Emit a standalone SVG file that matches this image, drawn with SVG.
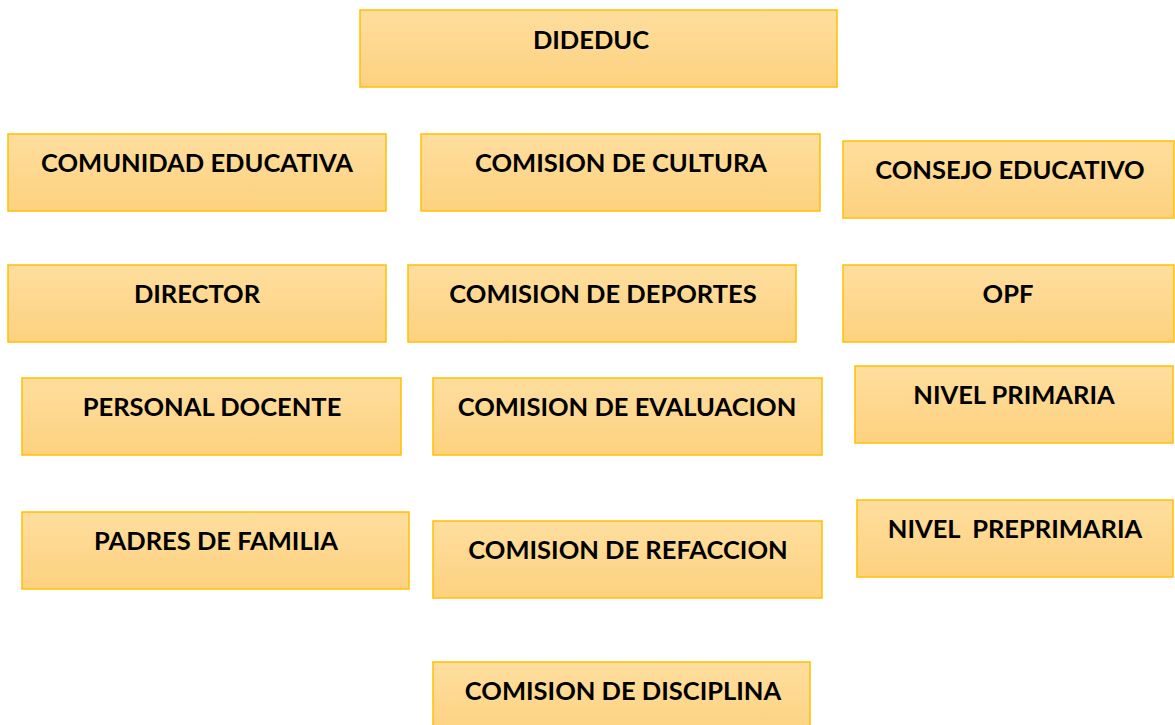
<svg xmlns="http://www.w3.org/2000/svg" width="1175" height="725" viewBox="0 0 1175 725">
<defs>
<linearGradient id="g" x1="0" y1="0" x2="0" y2="1">
<stop offset="0" stop-color="#FEDE9E"/>
<stop offset="1" stop-color="#FDD17F"/>
</linearGradient>
</defs>
<style>
.box{fill:url(#g);stroke:#FFC000;stroke-width:1.5}
.t{font-family:Lato,"Open Sans",sans-serif;font-weight:bold;font-size:25.5px;fill:#000;text-anchor:middle}
</style>
<rect width="1175" height="725" fill="#fff"/>
<g id="connectors"></g>
<g id="dideduc"><rect class="box" x="360" y="10" width="477" height="77"/><text class="t" x="591" y="49">DIDEDUC</text></g>
<g id="comunidad"><rect class="box" x="8" y="134" width="378" height="77"/><text class="t" x="197" y="172">COMUNIDAD EDUCATIVA</text></g>
<g id="cultura"><rect class="box" x="421" y="134" width="399" height="77"/><text class="t" x="621" y="172">COMISION DE CULTURA</text></g>
<g id="consejo"><rect class="box" x="843" y="141" width="331" height="77"/><text class="t" x="1010" y="179">CONSEJO EDUCATIVO</text></g>
<g id="director"><rect class="box" x="8" y="265" width="378" height="77"/><text class="t" x="197" y="303">DIRECTOR</text></g>
<g id="deportes"><rect class="box" x="408" y="265" width="388" height="77"/><text class="t" x="603" y="303">COMISION DE DEPORTES</text></g>
<g id="opf"><rect class="box" x="843" y="265" width="331" height="77"/><text class="t" x="1008" y="303">OPF</text></g>
<g id="docente"><rect class="box" x="22" y="378" width="379" height="77"/><text class="t" x="212" y="416">PERSONAL DOCENTE</text></g>
<g id="evaluacion"><rect class="box" x="433" y="378" width="389" height="77"/><text class="t" x="627" y="416">COMISION DE EVALUACION</text></g>
<g id="primaria"><rect class="box" x="855" y="366" width="318" height="77"/><text class="t" x="1014" y="404">NIVEL PRIMARIA</text></g>
<g id="padres"><rect class="box" x="22" y="512" width="387" height="77"/><text class="t" x="216" y="550">PADRES DE FAMILIA</text></g>
<g id="refaccion"><rect class="box" x="433" y="521" width="389" height="77"/><text class="t" x="628" y="559">COMISION DE REFACCION</text></g>
<g id="preprimaria"><rect class="box" x="857" y="500" width="316" height="77"/><text class="t" x="1015" y="538" xml:space="preserve">NIVEL  PREPRIMARIA</text></g>
<g id="disciplina"><rect class="box" x="433" y="662" width="377" height="77"/><text class="t" x="623" y="700">COMISION DE DISCIPLINA</text></g>
</svg>
